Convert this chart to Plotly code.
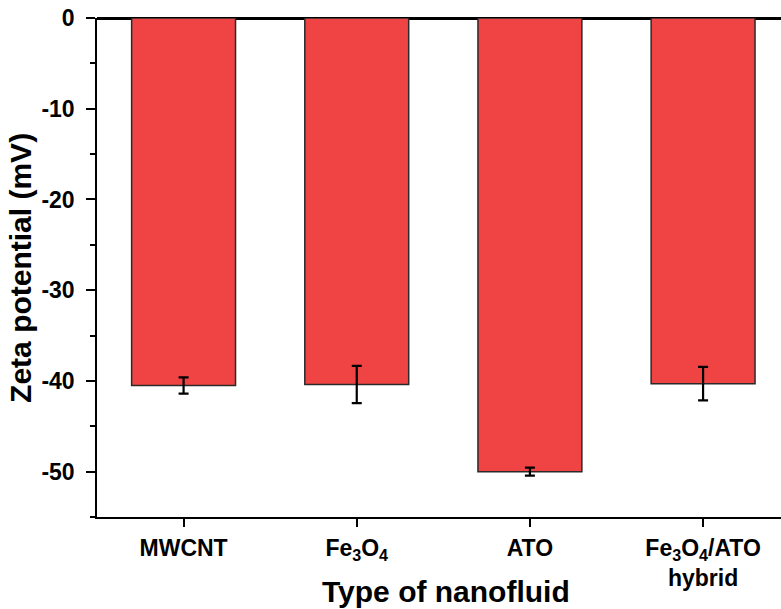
import plotly.graph_objects as go

# Zeta potential of each nanofluid (mV) with standard deviation
categories = ["MWCNT", "Fe<sub>3</sub>O<sub>4</sub>", "ATO", "Fe<sub>3</sub>O<sub>4</sub>/ATO<br>hybrid"]
zeta_mv = [-40.5, -40.4, -50.0, -40.3]
zeta_err = [0.9, 2.05, 0.45, 1.85]
y_tick_values = [0, -10, -20, -30, -40, -50]
y_tick_labels = ["0", "-10", "-20", "-30", "-40", "-50"]

x_pos = list(range(len(categories)))
font_family = "Arial, Liberation Sans, sans-serif"

fig = go.Figure(
    go.Bar(
        x=x_pos,
        y=zeta_mv,
        width=0.6,
        marker=dict(color="#F04444", line=dict(color="#2a2a2a", width=1.5)),
        error_y=dict(type="data", array=zeta_err, color="black", thickness=2.2, width=5),
    )
)

fig.update_layout(
    width=781,
    height=609,
    margin=dict(l=97, r=0, t=18, b=92),
    plot_bgcolor="white",
    paper_bgcolor="white",
    showlegend=False,
    font=dict(family=font_family, color="black"),
)

fig.update_xaxes(
    range=[-0.5, 3.45],
    tickvals=x_pos,
    ticktext=categories,
    tickfont=dict(size=23, family=font_family, weight="bold"),
    ticks="outside",
    ticklen=8,
    tickwidth=1.5,
    tickcolor="black",
    ticklabelstandoff=2,
    showline=True,
    linecolor="black",
    linewidth=1.5,
    showgrid=False,
    zeroline=False,
)

fig.update_yaxes(
    range=[-55, 0],
    tickvals=y_tick_values,
    ticktext=y_tick_labels,
    tickfont=dict(size=23, family=font_family, weight="bold"),
    ticks="outside",
    ticklen=9,
    tickwidth=1.5,
    tickcolor="black",
    ticklabelstandoff=7,
    minor=dict(ticks="outside", ticklen=5, tickwidth=1.5, tickcolor="black", dtick=5, tick0=0, showgrid=False),
    showline=True,
    linecolor="black",
    linewidth=1.5,
    showgrid=False,
    zeroline=True,
    zerolinecolor="black",
    zerolinewidth=2.5,
)

# Axis titles
fig.add_annotation(
    text="Type of nanofluid", xref="paper", yref="paper",
    x=0.51, y=-0.112, xanchor="center", yanchor="top", showarrow=False,
    font=dict(size=30, family=font_family, weight="bold"),
)
fig.add_annotation(
    text="Zeta potential (mV)", xref="paper", yref="paper",
    x=-0.112, y=0.5, xanchor="center", yanchor="middle", showarrow=False,
    textangle=-90, font=dict(size=30, family=font_family, weight="bold"),
)

fig.write_html("out.html")
